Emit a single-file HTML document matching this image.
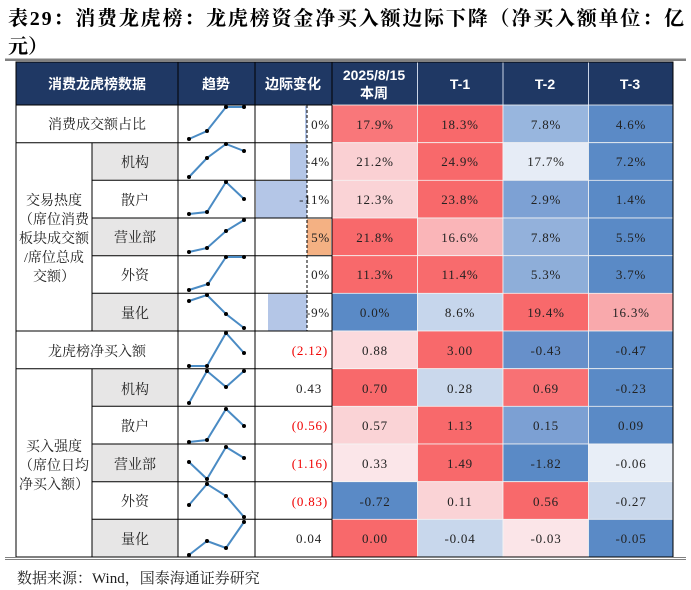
<!DOCTYPE html>
<html><head><meta charset="utf-8"><style>
html,body{margin:0;padding:0;background:#fff;}
svg{display:block;}
.t{font-family:"Liberation Serif","Noto Serif CJK SC",serif;font-size:13px;fill:#222;letter-spacing:0.8px;}
.c{font-family:"Liberation Serif","Noto Serif CJK SC",serif;font-size:14px;fill:#222;}
.h{font-family:"Liberation Sans","Noto Sans CJK SC",sans-serif;font-size:14px;fill:#fff;font-weight:bold;}
.r{fill:#f00000;}
</style></head><body>
<svg width="691" height="590" viewBox="0 0 691 590" xmlns="http://www.w3.org/2000/svg">
<text x="8" y="25" font-family="Liberation Serif,Noto Serif CJK SC,serif" font-weight="bold" font-size="20" fill="#000" textLength="676" lengthAdjust="spacing">表29：消费龙虎榜：龙虎榜资金净买入额边际下降（净买入额单位：亿</text>
<text x="8" y="53" font-family="Liberation Serif,Noto Serif CJK SC,serif" font-weight="bold" font-size="20" fill="#000">元）</text>
<rect x="5" y="58.5" width="681" height="2.5" fill="#808080"/>
<rect x="16" y="62" width="657" height="43" fill="#1F3864"/>
<g stroke="#c9d3e6" stroke-width="1">
<line x1="178" y1="62" x2="178" y2="105" stroke="#000"/><line x1="255" y1="62" x2="255" y2="105" stroke="#000"/>
<line x1="332" y1="62" x2="332" y2="105" stroke="#000"/>
<line x1="417.5" y1="62" x2="417.5" y2="105"/><line x1="503" y1="62" x2="503" y2="105"/><line x1="588.5" y1="62" x2="588.5" y2="105"/>
</g>
<text class="h" x="97" y="89" text-anchor="middle">消费龙虎榜数据</text>
<text class="h" x="216" y="89" text-anchor="middle">趋势</text>
<text class="h" x="293" y="89" text-anchor="middle">边际变化</text>
<text class="h" x="374" y="80" text-anchor="middle" font-family="Liberation Serif,serif" font-size="13">2025/8/15</text>
<text class="h" x="374" y="98" text-anchor="middle">本周</text>
<text class="h" x="460" y="89" text-anchor="middle" font-family="Liberation Serif,serif" font-size="13">T-1</text>
<text class="h" x="545" y="89" text-anchor="middle" font-family="Liberation Serif,serif" font-size="13">T-2</text>
<text class="h" x="630" y="89" text-anchor="middle" font-family="Liberation Serif,serif" font-size="13">T-3</text>
<g fill="#E7E6E6">
<rect x="92" y="142.7" width="86" height="37.7"/><rect x="92" y="218" width="86" height="37.7"/><rect x="92" y="293.3" width="86" height="37.7"/>
<rect x="92" y="368.7" width="86" height="37.7"/><rect x="92" y="444" width="86" height="37.7"/><rect x="92" y="519.3" width="86" height="37.7"/>
</g>
<g stroke="#f4f4f4" stroke-width="0.8">
<rect x="332" y="105" width="85.5" height="37.7" fill="#F9777A"/><rect x="417.5" y="105" width="85.5" height="37.7" fill="#F8696B"/><rect x="503" y="105" width="85.5" height="37.7" fill="#98B6DE"/><rect x="588.5" y="105" width="84.5" height="37.7" fill="#5B8AC6"/>
<rect x="332" y="142.7" width="85.5" height="37.7" fill="#FAD0D3"/><rect x="417.5" y="142.7" width="85.5" height="37.7" fill="#F8696B"/><rect x="503" y="142.7" width="85.5" height="37.7" fill="#E6ECF6"/><rect x="588.5" y="142.7" width="84.5" height="37.7" fill="#5A8AC6"/>
<rect x="332" y="180.3" width="85.5" height="37.7" fill="#FAD3D6"/><rect x="417.5" y="180.3" width="85.5" height="37.7" fill="#F8696B"/><rect x="503" y="180.3" width="85.5" height="37.7" fill="#7DA1D4"/><rect x="588.5" y="180.3" width="84.5" height="37.7" fill="#5A8AC6"/>
<rect x="332" y="218" width="85.5" height="37.7" fill="#F8696B"/><rect x="417.5" y="218" width="85.5" height="37.7" fill="#FAB5B8"/><rect x="503" y="218" width="85.5" height="37.7" fill="#93B1DB"/><rect x="588.5" y="218" width="84.5" height="37.7" fill="#5A8AC6"/>
<rect x="332" y="255.7" width="85.5" height="37.7" fill="#F8696B"/><rect x="417.5" y="255.7" width="85.5" height="37.7" fill="#F86B6D"/><rect x="503" y="255.7" width="85.5" height="37.7" fill="#8EAED9"/><rect x="588.5" y="255.7" width="84.5" height="37.7" fill="#5A8AC6"/>
<rect x="332" y="293.3" width="85.5" height="37.7" fill="#5A8AC6"/><rect x="417.5" y="293.3" width="85.5" height="37.7" fill="#C6D6EC"/><rect x="503" y="293.3" width="85.5" height="37.7" fill="#F8696B"/><rect x="588.5" y="293.3" width="84.5" height="37.7" fill="#F9A9AC"/>
<rect x="332" y="331" width="85.5" height="37.7" fill="#FBDADD"/><rect x="417.5" y="331" width="85.5" height="37.7" fill="#F8696B"/><rect x="503" y="331" width="85.5" height="37.7" fill="#6790CA"/><rect x="588.5" y="331" width="84.5" height="37.7" fill="#5A8AC6"/>
<rect x="332" y="368.7" width="85.5" height="37.7" fill="#F8696B"/><rect x="417.5" y="368.7" width="85.5" height="37.7" fill="#CAD8EC"/><rect x="503" y="368.7" width="85.5" height="37.7" fill="#F87174"/><rect x="588.5" y="368.7" width="84.5" height="37.7" fill="#5A8AC6"/>
<rect x="332" y="406.3" width="85.5" height="37.7" fill="#FAD3D6"/><rect x="417.5" y="406.3" width="85.5" height="37.7" fill="#F8696B"/><rect x="503" y="406.3" width="85.5" height="37.7" fill="#7CA0D3"/><rect x="588.5" y="406.3" width="84.5" height="37.7" fill="#5A8AC6"/>
<rect x="332" y="444" width="85.5" height="37.7" fill="#FBE6E9"/><rect x="417.5" y="444" width="85.5" height="37.7" fill="#F8696B"/><rect x="503" y="444" width="85.5" height="37.7" fill="#5A8AC6"/><rect x="588.5" y="444" width="84.5" height="37.7" fill="#E8EEF7"/>
<rect x="332" y="481.7" width="85.5" height="37.7" fill="#5A8AC6"/><rect x="417.5" y="481.7" width="85.5" height="37.7" fill="#FAD3D6"/><rect x="503" y="481.7" width="85.5" height="37.7" fill="#F8696B"/><rect x="588.5" y="481.7" width="84.5" height="37.7" fill="#C9D8EC"/>
<rect x="332" y="519.3" width="85.5" height="37.7" fill="#F8696B"/><rect x="417.5" y="519.3" width="85.5" height="37.7" fill="#C8D7EC"/><rect x="503" y="519.3" width="85.5" height="37.7" fill="#FBE5E8"/><rect x="588.5" y="519.3" width="84.5" height="37.7" fill="#5A8AC6"/>
</g>
<rect x="305" y="106" width="2" height="36" fill="#B4C6E7"/>
<rect x="290" y="143.5" width="17" height="36" fill="#B4C6E7"/>
<rect x="256" y="181" width="51" height="36.5" fill="#B4C6E7"/>
<rect x="307" y="219" width="24" height="36" fill="#F4B183"/>
<rect x="268" y="294" width="39" height="36.5" fill="#B4C6E7"/>
<line x1="307" y1="105" x2="307" y2="331" stroke="#000" stroke-width="1" stroke-dasharray="3,2"/>
<g stroke="#000" stroke-width="1" fill="none">
<rect x="16" y="62" width="657" height="495"/>
<line x1="92" y1="142.7" x2="92" y2="331"/><line x1="92" y1="368.7" x2="92" y2="557"/>
<line x1="178" y1="105" x2="178" y2="557"/><line x1="255" y1="105" x2="255" y2="557"/><line x1="332" y1="105" x2="332" y2="557"/>
<line x1="16" y1="105" x2="332" y2="105"/>
<line x1="16" y1="142.7" x2="332" y2="142.7"/>
<line x1="92" y1="180.3" x2="332" y2="180.3"/><line x1="92" y1="218" x2="332" y2="218"/><line x1="92" y1="255.7" x2="332" y2="255.7"/><line x1="92" y1="293.3" x2="332" y2="293.3"/>
<line x1="16" y1="331" x2="332" y2="331"/><line x1="16" y1="368.7" x2="332" y2="368.7"/>
<line x1="92" y1="406.3" x2="332" y2="406.3"/><line x1="92" y1="444" x2="332" y2="444"/><line x1="92" y1="481.7" x2="332" y2="481.7"/><line x1="92" y1="519.3" x2="332" y2="519.3"/>
</g>
<rect x="5" y="557" width="681" height="3" fill="#808080"/>
<rect x="5" y="558" width="681" height="1" fill="#fff"/>
<g stroke="#4A8BC4" stroke-width="2" fill="none">
<polyline points="189,139 207,131 226,107 244,107"/>
<polyline points="189,177 207,158 226,144 244,151"/>
<polyline points="189,214 207,212 226,182 244,199"/>
<polyline points="189,252 207,248 226,231 244,220"/>
<polyline points="189,290 208,284 226,257 244,257"/>
<polyline points="189,301 207,295 226,314 244,328"/>
<polyline points="189,366 207,366 226,333 244,353"/>
<polyline points="189,403 207,371 226,387 244,371"/>
<polyline points="189,442 207,440 226,409 244,426"/>
<polyline points="189,462 207,479 226,447 244,458"/>
<polyline points="189,505 207,484 226,496 244,517"/>
<polyline points="189,555 207,541 226,548 244,522"/>
</g>
<g fill="#000">
<circle cx="189" cy="139" r="2"/><circle cx="207" cy="131" r="2"/><circle cx="226" cy="107" r="2"/><circle cx="244" cy="107" r="2"/>
<circle cx="189" cy="177" r="2"/><circle cx="207" cy="158" r="2"/><circle cx="226" cy="144" r="2"/><circle cx="244" cy="151" r="2"/>
<circle cx="189" cy="214" r="2"/><circle cx="207" cy="212" r="2"/><circle cx="226" cy="182" r="2"/><circle cx="244" cy="199" r="2"/>
<circle cx="189" cy="252" r="2"/><circle cx="207" cy="248" r="2"/><circle cx="226" cy="231" r="2"/><circle cx="244" cy="220" r="2"/>
<circle cx="189" cy="290" r="2"/><circle cx="208" cy="284" r="2"/><circle cx="226" cy="257" r="2"/><circle cx="244" cy="257" r="2"/>
<circle cx="189" cy="301" r="2"/><circle cx="207" cy="295" r="2"/><circle cx="226" cy="314" r="2"/><circle cx="244" cy="328" r="2"/>
<circle cx="189" cy="366" r="2"/><circle cx="207" cy="366" r="2"/><circle cx="226" cy="333" r="2"/><circle cx="244" cy="353" r="2"/>
<circle cx="189" cy="403" r="2"/><circle cx="207" cy="371" r="2"/><circle cx="226" cy="387" r="2"/><circle cx="244" cy="371" r="2"/>
<circle cx="189" cy="442" r="2"/><circle cx="207" cy="440" r="2"/><circle cx="226" cy="409" r="2"/><circle cx="244" cy="426" r="2"/>
<circle cx="189" cy="462" r="2"/><circle cx="207" cy="479" r="2"/><circle cx="226" cy="447" r="2"/><circle cx="244" cy="458" r="2"/>
<circle cx="189" cy="505" r="2"/><circle cx="207" cy="484" r="2"/><circle cx="226" cy="496" r="2"/><circle cx="244" cy="517" r="2"/>
<circle cx="189" cy="555" r="2"/><circle cx="207" cy="541" r="2"/><circle cx="226" cy="548" r="2"/><circle cx="244" cy="522" r="2"/>
</g>
<text class="c" x="97" y="129" text-anchor="middle">消费成交额占比</text>
<text class="c" x="54" y="205" text-anchor="middle">交易热度</text>
<text class="c" x="54" y="224" text-anchor="middle">（席位消费</text>
<text class="c" x="54" y="243" text-anchor="middle">板块成交额</text>
<text class="c" x="54" y="262" text-anchor="middle">/席位总成</text>
<text class="c" x="54" y="281" text-anchor="middle">交额）</text>
<text class="c" x="135" y="167" text-anchor="middle">机构</text>
<text class="c" x="135" y="205" text-anchor="middle">散户</text>
<text class="c" x="135" y="242" text-anchor="middle">营业部</text>
<text class="c" x="135" y="280" text-anchor="middle">外资</text>
<text class="c" x="135" y="318" text-anchor="middle">量化</text>
<text class="c" x="97" y="356" text-anchor="middle">龙虎榜净买入额</text>
<text class="c" x="54" y="451" text-anchor="middle">买入强度</text>
<text class="c" x="54" y="470" text-anchor="middle">（席位日均</text>
<text class="c" x="54" y="489" text-anchor="middle">净买入额）</text>
<text class="c" x="135" y="394" text-anchor="middle">机构</text>
<text class="c" x="135" y="431" text-anchor="middle">散户</text>
<text class="c" x="135" y="469" text-anchor="middle">营业部</text>
<text class="c" x="135" y="506" text-anchor="middle">外资</text>
<text class="c" x="135" y="544" text-anchor="middle">量化</text>
<text class="t" x="330" y="129" text-anchor="end">0%</text>
<text class="t" x="330" y="166" text-anchor="end">-4%</text>
<text class="t" x="330" y="204" text-anchor="end">-11%</text>
<text class="t" x="330" y="242" text-anchor="end">5%</text>
<text class="t" x="330" y="279" text-anchor="end">0%</text>
<text class="t" x="330" y="317" text-anchor="end">-9%</text>
<text class="t r" x="328" y="355" text-anchor="end">(2.12)</text>
<text class="t" x="322" y="393" text-anchor="end">0.43</text>
<text class="t r" x="328" y="430" text-anchor="end">(0.56)</text>
<text class="t r" x="328" y="468" text-anchor="end">(1.16)</text>
<text class="t r" x="328" y="506" text-anchor="end">(0.83)</text>
<text class="t" x="322" y="543" text-anchor="end">0.04</text>
<text class="t" x="375" y="129" text-anchor="middle">17.9%</text><text class="t" x="460" y="129" text-anchor="middle">18.3%</text><text class="t" x="546" y="129" text-anchor="middle">7.8%</text><text class="t" x="631" y="129" text-anchor="middle">4.6%</text>
<text class="t" x="375" y="166" text-anchor="middle">21.2%</text><text class="t" x="460" y="166" text-anchor="middle">24.9%</text><text class="t" x="546" y="166" text-anchor="middle">17.7%</text><text class="t" x="631" y="166" text-anchor="middle">7.2%</text>
<text class="t" x="375" y="204" text-anchor="middle">12.3%</text><text class="t" x="460" y="204" text-anchor="middle">23.8%</text><text class="t" x="546" y="204" text-anchor="middle">2.9%</text><text class="t" x="631" y="204" text-anchor="middle">1.4%</text>
<text class="t" x="375" y="242" text-anchor="middle">21.8%</text><text class="t" x="460" y="242" text-anchor="middle">16.6%</text><text class="t" x="546" y="242" text-anchor="middle">7.8%</text><text class="t" x="631" y="242" text-anchor="middle">5.5%</text>
<text class="t" x="375" y="279" text-anchor="middle">11.3%</text><text class="t" x="460" y="279" text-anchor="middle">11.4%</text><text class="t" x="546" y="279" text-anchor="middle">5.3%</text><text class="t" x="631" y="279" text-anchor="middle">3.7%</text>
<text class="t" x="375" y="317" text-anchor="middle">0.0%</text><text class="t" x="460" y="317" text-anchor="middle">8.6%</text><text class="t" x="546" y="317" text-anchor="middle">19.4%</text><text class="t" x="631" y="317" text-anchor="middle">16.3%</text>
<text class="t" x="375" y="355" text-anchor="middle">0.88</text><text class="t" x="460" y="355" text-anchor="middle">3.00</text><text class="t" x="546" y="355" text-anchor="middle">-0.43</text><text class="t" x="631" y="355" text-anchor="middle">-0.47</text>
<text class="t" x="375" y="393" text-anchor="middle">0.70</text><text class="t" x="460" y="393" text-anchor="middle">0.28</text><text class="t" x="546" y="393" text-anchor="middle">0.69</text><text class="t" x="631" y="393" text-anchor="middle">-0.23</text>
<text class="t" x="375" y="430" text-anchor="middle">0.57</text><text class="t" x="460" y="430" text-anchor="middle">1.13</text><text class="t" x="546" y="430" text-anchor="middle">0.15</text><text class="t" x="631" y="430" text-anchor="middle">0.09</text>
<text class="t" x="375" y="468" text-anchor="middle">0.33</text><text class="t" x="460" y="468" text-anchor="middle">1.49</text><text class="t" x="546" y="468" text-anchor="middle">-1.82</text><text class="t" x="631" y="468" text-anchor="middle">-0.06</text>
<text class="t" x="375" y="506" text-anchor="middle">-0.72</text><text class="t" x="460" y="506" text-anchor="middle">0.11</text><text class="t" x="546" y="506" text-anchor="middle">0.56</text><text class="t" x="631" y="506" text-anchor="middle">-0.27</text>
<text class="t" x="375" y="543" text-anchor="middle">0.00</text><text class="t" x="460" y="543" text-anchor="middle">-0.04</text><text class="t" x="546" y="543" text-anchor="middle">-0.03</text><text class="t" x="631" y="543" text-anchor="middle">-0.05</text>
<text x="17" y="583" font-family="Liberation Serif,Noto Serif CJK SC,serif" font-size="15" fill="#222">数据来源：Wind，国泰海通证券研究</text>
</svg>
</body></html>
